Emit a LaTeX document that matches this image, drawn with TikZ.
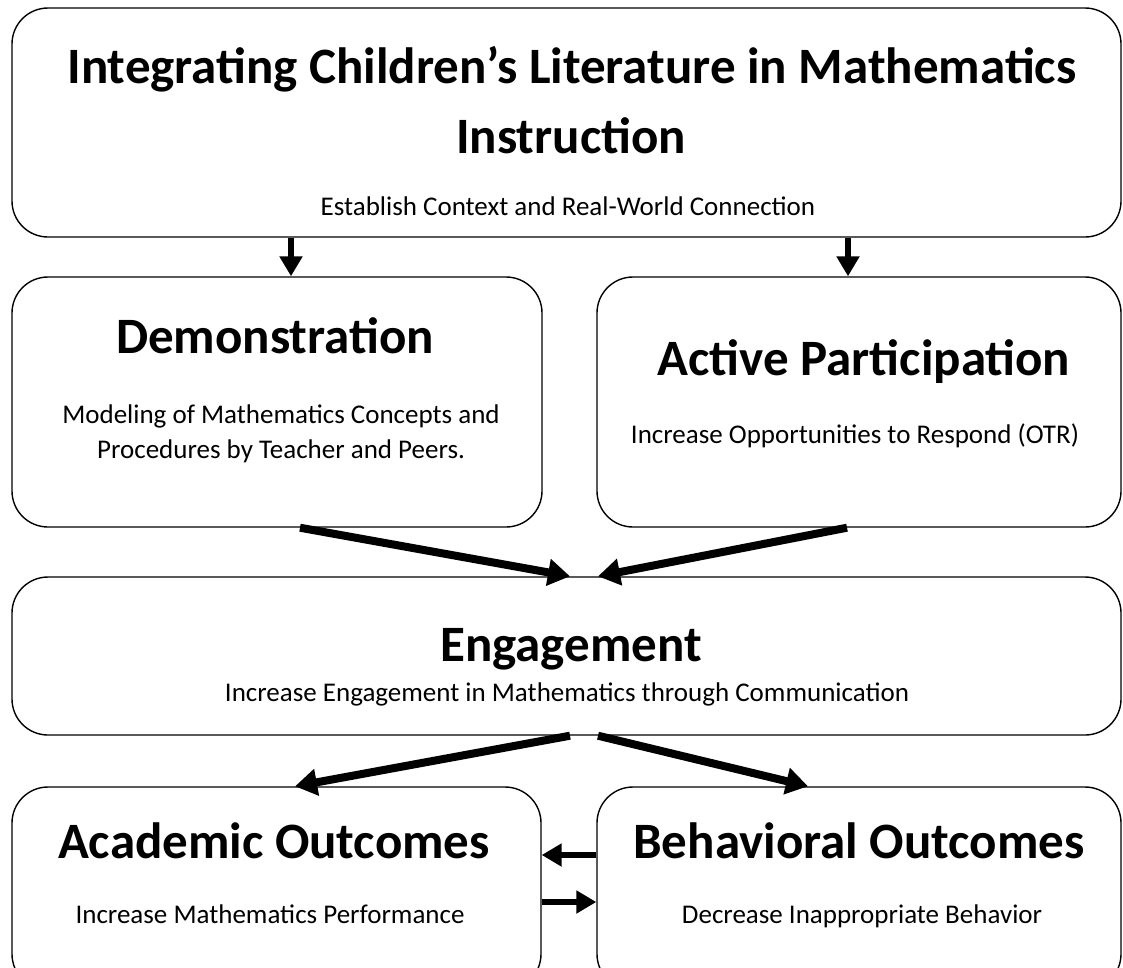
\documentclass[tikz,border=0pt]{standalone}
\usepackage{fontspec}
\setmainfont{Carlito}
\usetikzlibrary{arrows.meta}
\begin{document}
\begin{tikzpicture}[x=1pt,y=-1pt,
  box/.style={draw=black, line width=1.4pt, rounded corners=36pt, inner sep=0pt},
  big/.style={font=\fontsize{51}{55}\selectfont\bfseries, inner sep=0pt, anchor=base},
  small/.style={font=\fontsize{27}{35}\selectfont, inner sep=0pt, anchor=base, align=center},
  varr/.style={line width=6pt, -{Triangle[length=20pt,width=22pt]}},
  darr/.style={line width=8pt, -{Triangle[length=22pt,width=26pt]}},
  harr/.style={line width=6pt, -{Triangle[length=20pt,width=22pt]}}]
\useasboundingbox (0,0) rectangle (1123,967);
\clip (0,0) rectangle (1123,967);
% boxes
\node[box, minimum width=1109pt, minimum height=229pt] (top) at (566.5,122.5) {};
\node[box, minimum width=530pt, minimum height=250pt] (demo) at (277,402) {};
\node[box, minimum width=524pt, minimum height=250pt] (act) at (859,402) {};
\node[box, minimum width=1109pt, minimum height=158pt] (eng) at (566.5,656) {};
\node[box, minimum width=529pt, minimum height=203pt] (acad) at (276.5,888.5) {};
\node[box, minimum width=524pt, minimum height=203pt] (beh) at (859,888.5) {};
% texts
\node[big] (t1) at (572,83) {Integrating Children’s Literature in Mathematics};
\node[big] (t2) at (571,153) {Instruction};
\node[small] (t3) at (568,215) {Establish Context and Real-World Connection};
\node[big] (d1) at (275,353) {Demonstration};
\node[small] (d2) at (281,423) {Modeling of Mathematics Concepts and};
\node[small] (d3) at (281,458) {Procedures by Teacher and Peers.};
\node[big] (a1) at (864,375) {Active Participation};
\node[small] (a2) at (855,443) {Increase Opportunities to Respond (OTR)};
\node[big] (e1) at (571,661) {Engagement};
\node[small] (e2) at (567,701) {Increase Engagement in Mathematics through Communication};
\node[big] (o1) at (274,858) {Academic Outcomes};
\node[small] (o2) at (270,923) {Increase Mathematics Performance};
\node[big] (b1) at (859,858) {Behavioral Outcomes};
\node[small] (b2) at (862,923) {Decrease Inappropriate Behavior};
% connector anchors
\coordinate (xl) at (291,0);
\coordinate (xr) at (848,0);
\coordinate (p1) at (300,0);
\coordinate (p2) at (570,0);
\coordinate (p3) at (847,0);
\coordinate (p4) at (598,0);
\coordinate (q1) at (295,0);
\coordinate (q2) at (808,0);
\coordinate (ya) at (0,855);
\coordinate (yb) at (0,902);
% arrows
\draw[varr] (top.south -| xl) -- (demo.north -| xl);
\draw[varr] (top.south -| xr) -- (act.north -| xr);
\draw[darr] (demo.south -| p1) -- (eng.north -| p2);
\draw[darr] (act.south -| p3) -- (eng.north -| p4);
\draw[darr] (eng.south -| p2) -- (acad.north -| q1);
\draw[darr] (eng.south -| p4) -- (beh.north -| q2);
\draw[harr] (beh.west |- ya) -- (acad.east |- ya);
\draw[harr] (acad.east |- yb) -- (beh.west |- yb);
\end{tikzpicture}
\end{document}
